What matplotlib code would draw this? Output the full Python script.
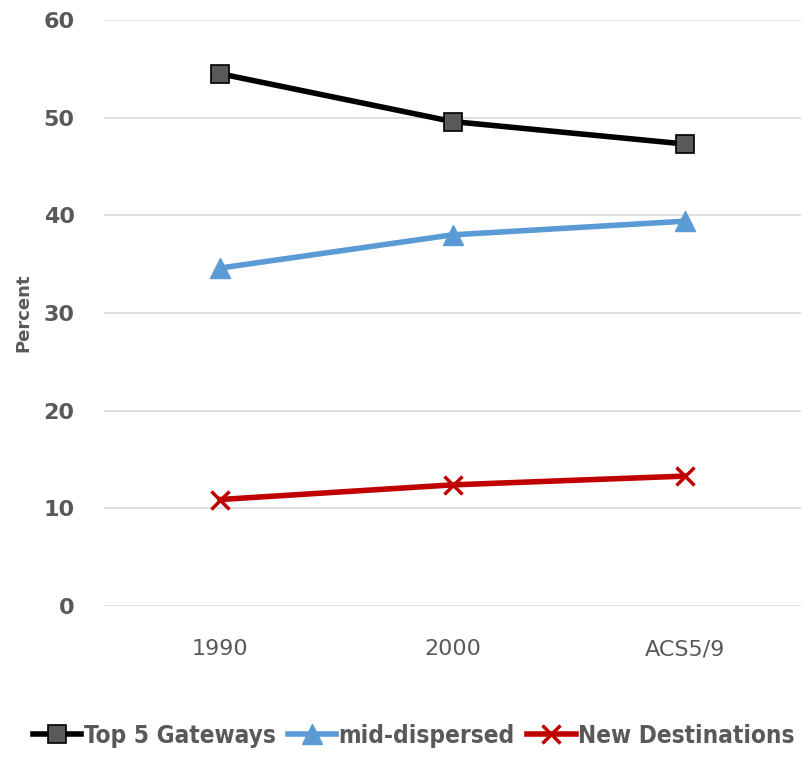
import matplotlib.pyplot as plt

years = ['1990', '2000', 'ACS5/9']
top5_gateways = [54.5, 49.6, 47.3]
mid_dispersed = [34.6, 38.0, 39.4]
new_destinations = [10.9, 12.4, 13.3]

grey = '#595959'

fig = plt.figure(figsize=(8.11, 7.57), dpi=100)
ax = fig.add_axes([0.128, 0.1995, 0.86, 0.7741])

x = range(len(years))
ax.plot(x, top5_gateways, color='black', lw=4, marker='s', ms=13,
        mfc='#595959', mec='black', mew=1.2, label='Top 5 Gateways')
ax.plot(x, mid_dispersed, color='#5B9BD5', lw=4, marker='^', ms=14,
        mfc='#5B9BD5', mec='#5B9BD5', label='mid-dispersed')
ax.plot(x, new_destinations, color='#C00000', lw=4, marker='x', ms=13,
        mew=2.5, label='New Destinations')

ax.set_xlim(-0.5, 2.5)
ax.set_ylim(0, 60)
ax.set_yticks(range(0, 61, 10))
ax.set_xticks(list(x))
ax.set_xticklabels(years, fontsize=16, color=grey)
for lbl in ax.get_yticklabels():
    lbl.set_fontweight('bold')
    lbl.set_fontsize(16)
    lbl.set_color(grey)
ax.tick_params(length=0)
ax.tick_params(axis='y', pad=21)
ax.tick_params(axis='x', pad=24)
ax.grid(axis='y', color='#d9d9d9', lw=1.2)
ax.set_axisbelow(True)
for s in ax.spines.values():
    s.set_visible(False)

ax.set_ylabel('Percent', fontsize=13, fontweight='bold', color=grey, labelpad=8)

leg = fig.legend(loc='center', bbox_to_anchor=(0.51, 0.028), ncol=3, frameon=False,
                 handlelength=2.0, handletextpad=0.1, columnspacing=0.5,
                 prop={'family': 'DejaVu Sans', 'stretch': 'condensed',
                       'weight': 'bold', 'size': 17.5})
for t in leg.get_texts():
    t.set_color(grey)

fig.savefig('out.png', dpi=100)
